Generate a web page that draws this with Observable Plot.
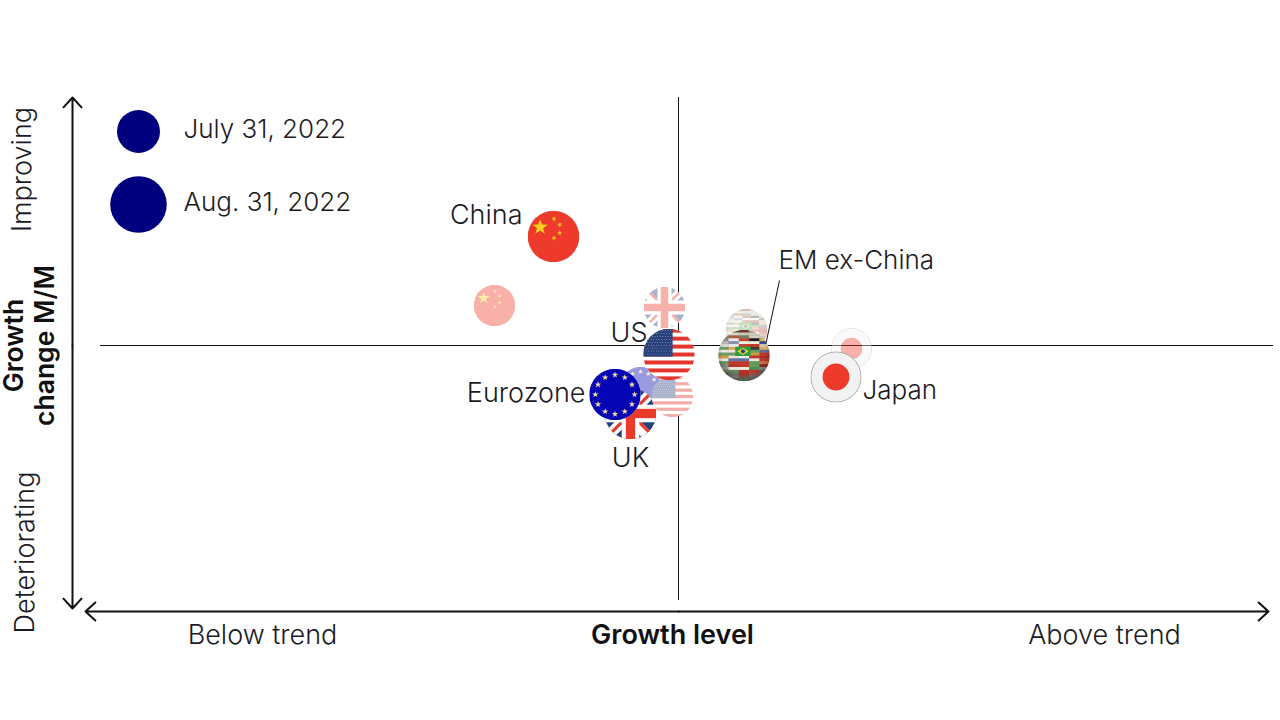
<!DOCTYPE html>
<html><head><meta charset="utf-8">
<script src="https://cdn.jsdelivr.net/npm/d3@7"></script>
<script src="https://cdn.jsdelivr.net/npm/@observablehq/plot@0.6"></script>
<style>html,body{margin:0;padding:0;background:#fff}svg{display:block}</style>
</head><body><div id="chart"></div>
<script>
// Flag bubbles, in drawing order
const economies = ["UK","Eurozone","UK","US","Eurozone","US","EM","EM","Japan","Japan","China","China"];
const flagCodes = ["uk","eu","uk","us","eu","us","em","em","jp","jp","cn","cn"];
const dates = ["Jul","Jul","Aug","Jul","Aug","Aug","Jul","Aug","Jul","Aug","Jul","Aug"];
const growthLevel = [-0.14,-0.38,-0.48,-0.06,-0.635,-0.095,0.68,0.655,1.73,1.575,-1.84,-1.25];
const growthChange = [0.38,-0.42,-0.68,-0.51,-0.49,-0.09,0.16,-0.10,-0.03,-0.315,0.40,1.09];
const sizeByDate = {Jul: 20.7, Aug: 25.8};

// Labels
const labelText = ["China","US","Eurozone","UK","EM ex-China","Japan"];
const labelX = [-1.56,-0.31,-0.93,-0.48,1.0,1.84];
const labelY = [1.30,0.12,-0.48,-1.13,0.85,-0.45];
const labelAnchor = ["end","end","end","middle","start","start"];

const legendText = ["July 31, 2022","Aug. 31, 2022"];
const legendY = [2.16,1.43];
const legendDotY = [2.14,1.41];
const legendR = [21.5,28.3];
const legendDotX = -5.4, legendTextX = -4.95;

const navy = "#00007f", ink = "#1b1b25", axisInk = "#111";

function star(cx, cy, r, fill, rot = 0) {
  const p = [];
  for (let i = 0; i < 10; i++) {
    const a = -Math.PI/2 + rot + i*Math.PI/5, q = i%2 ? r*0.4 : r;
    p.push((cx+q*Math.cos(a)).toFixed(2)+","+(cy+q*Math.sin(a)).toFixed(2));
  }
  return `<polygon points="${p.join(" ")}" fill="${fill}"/>`;
}
function drawUK() {
  return `<rect width="100" height="100" fill="#26407c"/>
  <path d="M-5 5L100 110M105 -5L-5 105" stroke="#fff" stroke-width="20"/>
  <path d="M0 0L100 100M100 0L0 100" stroke="#e8392c" stroke-width="6"/>
  <rect x="33" width="34" height="100" fill="#fff"/><rect y="33" width="100" height="34" fill="#fff"/>
  <rect x="41" width="18" height="100" fill="#ea3a2b"/><rect y="41" width="100" height="18" fill="#ea3a2b"/>`;
}
function drawUS() {
  let s = `<rect width="100" height="100" fill="#fff"/>`;
  for (let i = 0; i < 7; i++) s += `<rect y="${i*15.4}" width="100" height="7.7" fill="#e3352c"/>`;
  s += `<rect width="57" height="54" fill="#27407a"/>`;
  for (let r = 0; r < 9; r++) for (let c = 0; c < 11; c++)
    s += `<circle cx="${3+c*5+(r%2)*2.5}" cy="${4+r*5.6}" r="0.9" fill="#c9d2e6"/>`;
  return s;
}
function drawEU() {
  let s = `<rect width="100" height="100" fill="#0404b4"/>`;
  for (let i = 0; i < 12; i++) {
    const a = i*Math.PI/6;
    s += star(50+38*Math.cos(a), 50+38*Math.sin(a), 6.5, "#eed9a0");
  }
  return s;
}
function drawCN() {
  return `<rect width="100" height="100" fill="#ee3a2a"/>` + star(24,32,15.5,"#fdd31a") +
    star(51,16,5.5,"#fdb52a",.4)+star(62,27,5.5,"#fdb52a",.8)+star(62,43,5.5,"#fdb52a",0)+star(51,53,5.5,"#fdb52a",.4);
}
function drawJP() {
  return `<circle cx="50" cy="50" r="48.8" fill="#f2f2f2" stroke="#8f8f8f" stroke-width="1.5"/><circle cx="50" cy="50" r="26" fill="#ee3a2a"/>`;
}
// Patchwork of small flags: each cell has three horizontal bands
const emRows = [
  [["#56705a","#4a5a48","#6f7f6a"],["#3b5f3a","#d8d8c8","#b05a40"],["#7a2f2a","#c9c9b8","#7a7a68"],["#9a9a88","#c9c9b8","#d0d0c0"],["#c9c9b8","#d0d0c0","#c0c0b0"]],
  [["#8a8a80","#b8b8b0","#d8d8d0"],["#e8e8e8","#8a90a8","#e8e8e8"],["#c84030","#f0ece0","#c84030"],["#1c1c1c","#f0ece0","#bb3a2c"],["#d8b060","#38507a","#d0c8a8"]],
  [["#6f9a66","#eae6da","#6f9a66"],["#d9a648","#eae6da","#6a9a5a"],["#2f9e3a","#2f9e3a","#2f9e3a"],["#3c3c30","#6f9a66","#c9a040"],["#d8b060","#5a6f9a","#c4352a"]],
  [["#d8964a","#eae6da","#5f9a5c"],["#e8e4d8","#5f70aa","#c4352a"],["#f0f0f0","#5a6faa","#c4352a"],["#c4352a","#eee8dc","#5f9a5c"],["#a82a24","#c4352a","#d07040"]],
  [["#8e8e86","#a0a098","#6f8a5a"],["#b03028","#eae6da","#5f8a5a"],["#c4352a","#f0ece0","#b03028"],["#5f9a5a","#4f8a50","#c4352a"],["#8a2a24","#8e8e86","#6a6a60"]],
  [["#5a5a58","#757570","#555"],["#787870","#8e8e86","#666"],["#b03028","#8e5a54","#5f8a5a"],["#a05a50","#7a7a70","#666"],["#777","#666","#555"]]
];
function drawEM(id) {
  let s = `<defs><filter id="b${id}" x="-10%" y="-10%" width="120%" height="120%"><feGaussianBlur stdDeviation="1"/></filter>
  <radialGradient id="g${id}" cx="50%" cy="42%" r="60%"><stop offset="70%" stop-color="#000" stop-opacity="0"/><stop offset="100%" stop-color="#000" stop-opacity=".35"/></radialGradient></defs>
  <g filter="url(#b${id})"><rect width="100" height="100" fill="#8a8f80"/>`;
  emRows.forEach((row,r)=>row.forEach((cell,c)=>cell.forEach((col,b)=>{
    s += `<rect x="${c*20}" y="${r*16.7+b*5.57}" width="20.2" height="5.8" fill="${col}"/>`;
  })));
  s += `<rect x="33" y="33" width="30" height="18" fill="#2f9e3a"/><path d="M37 42L48 35L59 42L48 49Z" fill="#e6d23c"/><circle cx="48" cy="42" r="4" fill="#2c3f86"/></g>
  <rect width="100" height="100" fill="url(#g${id})"/>`;
  return s;
}
const drawers = {uk:drawUK, us:drawUS, eu:drawEU, cn:drawCN, jp:drawJP, em:drawEM};
function flagSrc(code, date) {
  const fade = date === "Jul" ? (code === "em" ? 0.32 : 0.4) : 1;
  const bg = code === "jp" ? "" : `<rect width="100" height="100" fill="#fff"/>`;
  const svg = `<svg xmlns="http://www.w3.org/2000/svg" width="200" height="200" viewBox="0 0 100 100">${bg}<g opacity="${fade}">${drawers[code](date)}</g></svg>`;
  return "data:image/svg+xml;charset=utf-8," + encodeURIComponent(svg);
}

const font = "Inter, 'Noto Sans', sans-serif";
const rows = economies.map((name,i)=>({name, code:flagCodes[i], date:dates[i], x:growthLevel[i], y:growthChange[i]}));
const labels = labelText.map((t,i)=>({t, x:labelX[i], y:labelY[i], a:labelAnchor[i]}));
const textStyle = {fontSize:27, fontWeight:300, fill:ink, fontFamily:font};
const legendStyle = {fontSize:26, fontWeight:300, fill:ink, fontFamily:font};
const boldStyle = {fontSize:26.5, fontWeight:600, fill:"#111", fontFamily:font};

const arrow = (x1,y1,x2,y2) => Plot.arrow([{x1,y1,x2,y2}], {x1:"x1",y1:"y1",x2:"x2",y2:"y2",bend:0,stroke:axisInk,strokeWidth:2,headLength:10,headAngle:85});

const chart = Plot.plot({
  width:1280, height:720,
  marginTop:0, marginRight:0, marginBottom:0, marginLeft:0,
  x:{domain:[-6.78,6.02], range:[0,1280], axis:null},
  y:{domain:[3.45,-3.75], range:[0,720], axis:null},
  style:{background:"#fff", fontFamily:font},
  marks:[
    Plot.ruleY([0],{x1:-5.78,x2:5.95,stroke:"#111",strokeWidth:1}),
    Plot.ruleX([0],{y1:2.48,y2:-2.55,stroke:"#111",strokeWidth:1}),
    Plot.link([{x1:0.87,y1:0,x2:1.01,y2:0.65}],{x1:"x1",y1:"y1",x2:"x2",y2:"y2",stroke:"#111",strokeWidth:1}),
    arrow(-6.06,0,-6.06,2.48), arrow(-6.06,0,-6.06,-2.63),
    arrow(0,-2.66,-5.93,-2.66), arrow(0,-2.66,5.9,-2.66),
    ...rows.map(r => Plot.image([r],{x:"x",y:"y",src:d=>flagSrc(d.code,d.date),r:sizeByDate[r.date]})),
    ...legendText.map((t,i) => Plot.dot([t],{x:()=>legendDotX,y:()=>legendDotY[i],r:legendR[i],fill:navy,stroke:null})),
    Plot.text(legendText,{x:()=>legendTextX,y:(d,i)=>legendY[i],text:d=>d,textAnchor:"start",...legendStyle}),
    ...["middle","end"].map(a => Plot.text(labels.filter(l=>l.a===a),{x:"x",y:"y",text:"t",textAnchor:a,...textStyle})),
    Plot.text(labels.filter(l=>l.a==="start"),{x:"x",y:"y",text:"t",textAnchor:"start",...textStyle,fontSize:26}),
    Plot.text(["Below trend","Above trend"],{x:(d,i)=>[-4.16,4.26][i],y:()=>-2.9,text:d=>d,...textStyle}),
    Plot.text(["Growth level"],{x:()=>-0.06,y:()=>-2.9,text:d=>d,...boldStyle,fontSize:27}),
    Plot.text(["Improving","Deteriorating"],{x:(d,i)=>[-6.56,-6.53][i],y:(d,i)=>[1.76,-2.07][i],text:d=>d,rotate:-90,...textStyle}),
    Plot.text(["Growth","change M/M"],{x:(d,i)=>[-6.64,-6.33][i],y:()=>0,text:d=>d,rotate:-90,...boldStyle}),
  ]
});
document.getElementById("chart").appendChild(chart);
</script></body></html>
